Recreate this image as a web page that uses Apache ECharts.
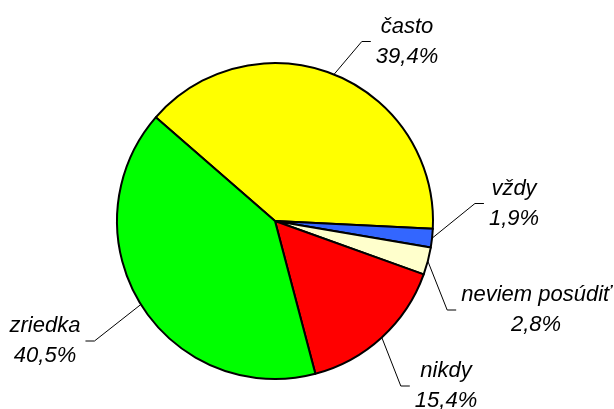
<!DOCTYPE html>
<html>
<head>
<meta charset="utf-8">
<script src="https://cdn.jsdelivr.net/npm/echarts@6/dist/echarts.min.js"></script>
<style>
html,body{margin:0;padding:0;background:#fff;}
#c{width:614px;height:409px;}
</style>
</head>
<body>
<div id="c"></div>
<script>
var categories = ['často', 'vždy', 'neviem posúdiť', 'nikdy', 'zriedka'];
var values = [39.4, 1.9, 2.8, 15.4, 40.5];
var percentLabels = ['39,4%', '1,9%', '2,8%', '15,4%', '40,5%'];
var colors = ['#FFFF00', '#3366FF', '#FFFFCC', '#FF0000', '#00FF00'];
// label block centres (text placement)
var labelX = [407, 514, 536, 446, 45];
var labelY = [41.5, 203.5, 310, 386, 341];

var chart = echarts.init(document.getElementById('c'));
var LEN2 = 9;
chart.setOption({
  animation: false,
  series: [{
    type: 'pie',
    center: [275, 221],
    radius: 158,
    startAngle: 139,
    clockwise: true,
    avoidLabelOverlap: false,
    data: categories.map(function (c, i) {
      return { name: c, value: values[i], itemStyle: { color: colors[i] } };
    }),
    itemStyle: { borderColor: '#000', borderWidth: 2 },
    emphasis: { disabled: true },
    label: {
      show: true,
      formatter: function (p) { return p.name + '\n' + percentLabels[p.dataIndex]; },
      fontFamily: 'Liberation Sans, Arial, sans-serif',
      fontStyle: 'italic',
      fontSize: 22,
      lineHeight: 30,
      color: '#000',
      padding: [0, 5]
    },
    labelLine: {
      show: true,
      length: 15,
      length2: LEN2,
      lineStyle: { color: '#000', width: 1 }
    },
    labelLayout: function (p) {
      var i = p.dataIndex;
      var w = p.labelRect.width;
      var x = labelX[i], y = labelY[i];
      var start = p.labelLinePoints ? p.labelLinePoints[0] : [x, y];
      var left = start[0] < x;
      var ax = left ? x - w / 2 : x + w / 2;
      var bx = left ? ax - LEN2 : ax + LEN2;
      return {
        x: x, y: y, align: 'center', verticalAlign: 'middle',
        labelLinePoints: [start, [bx, y], [ax, y]]
      };
    }
  }]
});
</script>
</body>
</html>
